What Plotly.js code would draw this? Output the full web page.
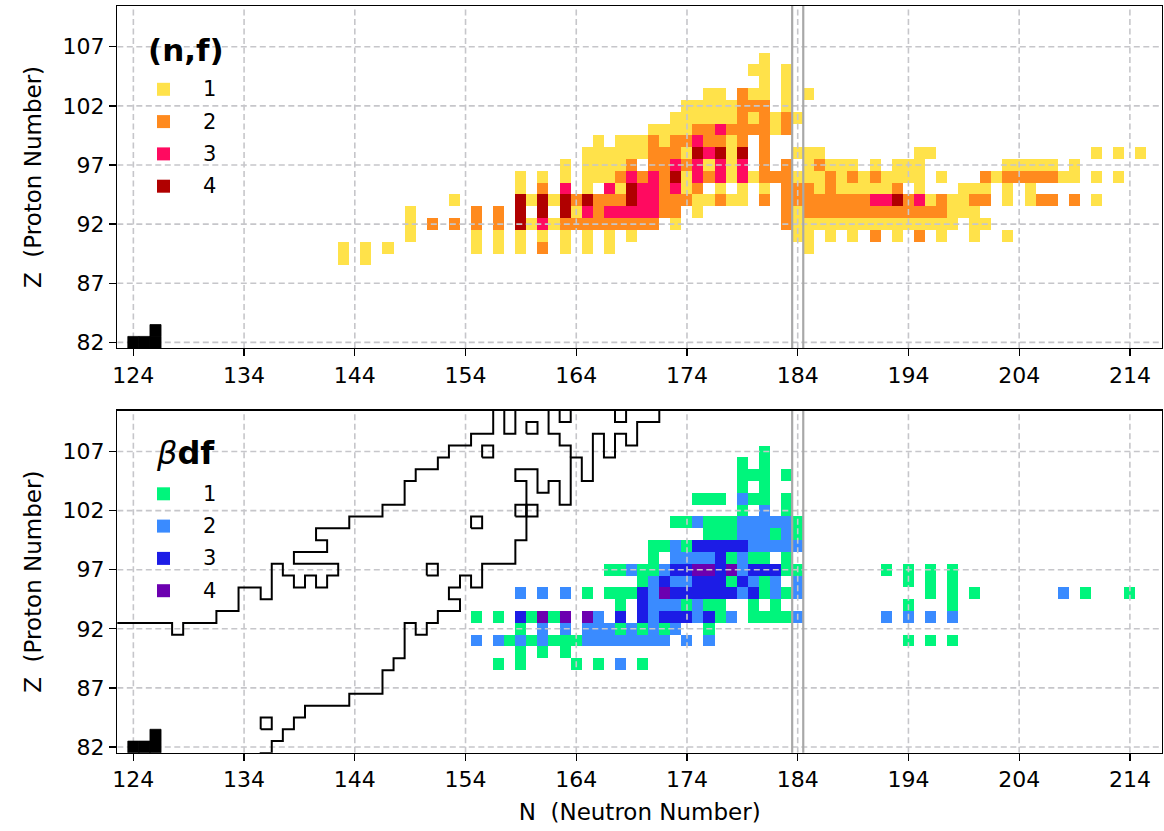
<!DOCTYPE html>
<html><head><meta charset="utf-8">
<script src="https://cdn.plot.ly/plotly-3.0.1.min.js"></script>
<style>html,body{margin:0;padding:0;background:#fff}</style>
</head><body>
<div id="chart" style="width:1164px;height:831px"></div>
<script>
// ---------------- DATA ----------------
const nTicks = [124,134,144,154,164,174,184,194,204,214];
const zTicks = [82,87,92,97,102,107];
const levelLabels = ['1','2','3','4'];
const nfColors  = ['#ffe24a','#ff8a1e','#ff0a60','#b00000'];
const bdfColors = ['#00f57c','#3a8bff','#1c1ce6','#6c00b0'];

// (n,f) panel: cells per proton number, "N:level" or "Nfrom-Nto:level"
const nfZ = [106,105,104,103,102,101,100,99,98,97,96,95,94,93,92,91,90,89];
const nfCells = [
 "181:1",
 "180:1 181:1 183:1",
 "181:1 183:1",
 "176-177:1 179:2 180-181:1 183:1 185:1",
 "174-178:1 179-181:2 183:1",
 "173-178:1 179:2 180:1 181:2 182:1 183:2 184:1",
 "171-174:1 175-176:2 177:3 178-181:2 182:1 183:2",
 "166:1 168-170:1 171:2 172:1 173-174:2 175:3 176-177:2 178:1 179:2 181:2",
 "165-170:1 171-173:2 174:1 175:4 176:3 177:4 178:1 179:4 181:2 184-186:1 195-196:1 211:1 213:1 215:1",
 "163:1 165-168:1 169:2 171-172:2 173:3 174:2 175:3 176:1 177:3 178:1 179:3 181:2 183:2 185:1 186:2 187-189:1 191:1 193-195:1 203-207:1 209:1",
 "159:1 161:1 163:1 165-167:1 168:2 169:3 170:2 171:3 172:2 173:4 174:1 175:3 176:2 177:3 178:1 179:3 180:1 181-183:2 184-186:1 187:2 188:1 189:2 190:1 191:2 192-195:1 197:1 201:2 202:1 203-207:2 208-209:1 211:1 213:1",
 "159:1 161:2 163:3 165:1 167:3 168:1 169:4 170-171:3 172:2 173:3 174:1 175:2 177:1 179:1 181:1 183-185:2 186:1 187:2 188-192:1 193:2 195:1 199-201:1 203:1 205:1",
 "153:1 159:4 160:1 161:4 162:1 163:4 164:2 165:4 166-168:2 169:4 170-171:3 172-174:2 175-176:1 177:2 178-179:1 181:2 183-190:2 191-192:3 193:4 194:2 195:3 196:1 197:2 198-199:1 200-201:2 203:1 205:1 206-207:2 209:2 211:1",
 "149:1 155:2 157:2 159:4 161:4 163:4 164:1 165:3 166:2 167-171:3 172-173:2 175:1 183:2 184:1 185-197:2 198-200:1",
 "149:1 151:2 153:2 155:2 157:2 159:4 160:1 161:3 162:1 163-171:2 173:1 183:2 184-198:1 200-201:1",
 "149:1 155:1 157:1 159:1 161:1 163:1 165:1 167:1 169:1 184-185:1 187:1 189:1 191:2 193:1 195:2 197:1 200:1 203:1",
 "143:1 145:1 147:1 155:1 157:1 159:1 161:2 163:1 165:1 167:1 185:1",
 "143:1 145:1"
];

// beta-delayed fission panel
const bdfZ = [107,106,105,104,103,102,101,100,99,98,97,96,95,94,93,92,91,90,89];
const bdfCells = [
 "181:1",
 "179:1 181:1",
 "179-181:1 183:1",
 "179:1 181:1",
 "175-177:1 179:2 180-181:1 183:1",
 "179:1 181:2 183:1",
 "173-174:1 175:2 176-178:1 179-183:2 184:1",
 "176-178:1 179-181:2 182:1 183:2 184:1",
 "171-172:1 173:2 174:1 175-179:3 180-184:2",
 "171:1 173-176:2 177:3 178:1 179:2 180-181:1 183:1",
 "167-168:1 169:2 170-171:1 172:2 173-174:3 175-176:4 177:3 178:4 179:2 180-182:3 183-184:1 192:1 194:1 196:1 198:1",
 "170:1 171:2 172:3 173-174:2 175-177:3 178:1 179:3 180:2 181:1 182:2 184:2 194:1 196:1 198:1",
 "159:2 161:2 163:2 165:1 167-169:1 170:3 171:2 172:4 173-178:3 179:2 180:3 181:1 182:2 183:1 184:2 196:1 198:1 200:1 208:2 210:1 214:1",
 "168:1 170:3 171-173:2 174:1 175:2 176-177:1 180:1 182:1 194:1 198:1",
 "155:1 157:1 159:3 160:1 161:4 162:1 163:4 165:4 166:2 168:3 170:3 171:2 172-174:3 175:2 176:3 177:1 178:2 180-183:1 184:2 192:2 194:2 196:2 198:2",
 "159:1 161:2 163:2 165-167:2 168:1 169:2 170:1 171:2 172:1 173:2 176:1",
 "155:2 157:2 158:1 159:2 160:1 161:2 162-164:1 165-172:2 174:2 176:2 194:1 196:1 198:1",
 "159:1 161:1 163:1",
 "157:1 159:1 164:1 166:1 168:2 170:1"
];

// doubly-magic corner (filled black) cells
const blackN = [124,125,126,126];
const blackZ = [82,82,82,83];

// magic N = 184 boundaries
const magicN = [183.5,184.5];

// outline paths (cell-edge vertices, N and Z)
const upperLineN = [120,127.5,127.5,128.5,128.5,131.5,131.5,133.5,133.5,135.5,135.5,136.5,136.5,137.5,137.5,138.5,138.5,139.5,139.5,140.5,140.5,141.5,141.5,142.5,142.5,138.5,138.5,141.5,141.5,140.5,140.5,143.5,143.5,146.5,146.5,148.5,148.5,149.5,149.5,151.5,151.5,152.5,152.5,154.5,154.5,156.5,156.5];
const upperLineZ = [92.5,92.5,91.5,91.5,92.5,92.5,93.5,93.5,95.5,95.5,94.5,94.5,97.5,97.5,96.5,96.5,95.5,95.5,96.5,96.5,95.5,95.5,96.5,96.5,97.5,97.5,98.5,98.5,99.5,99.5,100.5,100.5,101.5,101.5,102.5,102.5,104.5,104.5,105.5,105.5,106.5,106.5,107.5,107.5,108.5,108.5,112];
const lowerLineN = [135.5,135.5,136.5,136.5,137.5,137.5,138.5,138.5,139.5,139.5,143.5,143.5,146.5,146.5,147.5,147.5,148.5,148.5,149.5,149.5,150.5,150.5,151.5,151.5,153.5,153.5,152.5,152.5,153.5,153.5,154.5,154.5,155.5,155.5,158.5,158.5,159.5,159.5,158.5,158.5,160.5,160.5,161.5,161.5,162.5,162.5,163.5,163.5,164.5,164.5,165.5,165.5,166.5,166.5,167.5,167.5,168.5,168.5,169.5,169.5,171.5,171.5];
const lowerLineZ = [79,81.5,81.5,82.5,82.5,83.5,83.5,84.5,84.5,85.5,85.5,86.5,86.5,88.5,88.5,89.5,89.5,92.5,92.5,91.5,91.5,92.5,92.5,93.5,93.5,94.5,94.5,95.5,95.5,96.5,96.5,95.5,95.5,97.5,97.5,99.5,99.5,104.5,104.5,105.5,105.5,103.5,103.5,104.5,104.5,102.5,102.5,106.5,106.5,104.5,104.5,108.5,108.5,106.5,106.5,108.5,108.5,107.5,107.5,109.5,109.5,112];
// short segments hanging from the top edge
const topNotchN = [[157.5,157.5,158.5,158.5],[161.5,161.5,162.5,162.5,163.5,163.5],[162.5,162.5,163.5,163.5],[167.5,167.5,168.5,168.5]];
const topNotchZ = [[112,108.5,108.5,112],[112,108.5,108.5,107.5,107.5,106.5],[112,109.5,109.5,112],[112,109.5,109.5,112]];
// single outlined cells
const boxN = [136,151,155,156,160,159,160];
const boxZ = [84,97,101,107,109,102,102];

// ---------------- BUILD ----------------
function parseRuns(s){
  const out=[];
  s.trim().split(/\s+/).forEach(tok=>{
    if(!tok) return;
    const parts=tok.split(':'); const v=+parts[1];
    const r=parts[0].split('-').map(Number);
    const a=r[0], b=(r.length>1)?r[1]:r[0];
    for(let n=a;n<=b;n++) out.push([n,v]);
  });
  return out;
}
const gridN=[]; for(let n=120;n<=218;n++) gridN.push(n);
const gridZ=[]; for(let z=80;z<=112;z++) gridZ.push(z);
function buildZ(zList, cellList){
  const m = gridZ.map(()=>gridN.map(()=>null));
  zList.forEach((z,i)=>{
    parseRuns(cellList[i]).forEach(([n,v])=>{ m[z-gridZ[0]][n-gridN[0]] = v; });
  });
  return m;
}
function stepScale(cols){
  const k=cols.length, s=[];
  cols.forEach((c,i)=>{ s.push([i/k,c]); s.push([(i+1)/k,c]); });
  return s;
}
const xRange=[122.55,216.9], yRange=[81.52,110.45];

const traces = [];
const noHover = {hoverinfo:'skip', showlegend:false};
[['x','y',nfZ,nfCells,nfColors,false],['x2','y2',bdfZ,bdfCells,bdfColors,true]].forEach(([xa,ya,zl,cl,cols,outlines])=>{
  traces.push(Object.assign({type:'heatmap', x:gridN, y:gridZ, z:buildZ(zl,cl), zmin:0.5, zmax:4.5,
    colorscale:stepScale(cols), showscale:false, xaxis:xa, yaxis:ya}, noHover));
  // dashed grid drawn over the cells
  const gx=[],gy=[];
  nTicks.forEach(t=>{ gx.push(t,t,null); gy.push(yRange[0],yRange[1],null); });
  zTicks.forEach(t=>{ gx.push(xRange[0],xRange[1],null); gy.push(t,t,null); });
  traces.push(Object.assign({type:'scatter', mode:'lines', x:gx, y:gy, xaxis:xa, yaxis:ya,
    line:{color:'#c6c6ca', width:1.6, dash:'6px,3.5px'}}, noHover));
  // N = 184 double line
  const mx=[],my=[];
  magicN.forEach(t=>{ mx.push(t,t,null); my.push(yRange[0]-1,yRange[1]+1,null); });
  traces.push(Object.assign({type:'scatter', mode:'lines', x:mx, y:my, xaxis:xa, yaxis:ya,
    line:{color:'#a8a8a8', width:2.2}}, noHover));
  if(outlines){
    const ls={color:'#000', width:2};
    traces.push(Object.assign({type:'scatter', mode:'lines', x:upperLineN, y:upperLineZ, line:ls, xaxis:xa, yaxis:ya}, noHover));
    traces.push(Object.assign({type:'scatter', mode:'lines', x:lowerLineN, y:lowerLineZ, line:ls, xaxis:xa, yaxis:ya}, noHover));
    topNotchN.forEach((nn,i)=>traces.push(Object.assign({type:'scatter', mode:'lines', x:nn, y:topNotchZ[i], line:ls, xaxis:xa, yaxis:ya}, noHover)));
    const bx=[],by=[];
    boxN.forEach((n,i)=>{ const z=boxZ[i];
      bx.push(n-0.5,n+0.5,n+0.5,n-0.5,n-0.5,null); by.push(z-0.5,z-0.5,z+0.5,z+0.5,z-0.5,null); });
    traces.push(Object.assign({type:'scatter', mode:'lines', x:bx, y:by, line:ls, xaxis:xa, yaxis:ya}, noHover));
  }
  // filled black cells on top
  blackN.forEach((n,i)=>{ const z=blackZ[i];
    traces.push(Object.assign({type:'scatter', mode:'lines', fill:'toself', fillcolor:'#000',
      x:[n-0.5,n+0.5,n+0.5,n-0.5,n-0.5], y:[z-0.5,z-0.5,z+0.5,z+0.5,z-0.5],
      line:{color:'#000', width:0.8}, xaxis:xa, yaxis:ya}, noHover)); });
});

// ---------------- LAYOUT ----------------
const W=1164,H=831;
const px=(v)=>v/W, py=(v)=>1-v/H;
const fontFam = 'DejaVu Sans, Verdana, sans-serif';
function xAxis(domain, anchor, title){
  const a = {domain, anchor, range:xRange, tickvals:nTicks, ticks:'outside', ticklen:7, tickwidth:1.3,
    tickcolor:'#000', showgrid:false, zeroline:false, showline:true, mirror:true, linecolor:'#000', linewidth:1.3,
    tickfont:{size:22, color:'#000', family:fontFam}};
  if(title) a.title = {text:title, font:{size:23, color:'#000', family:fontFam}, standoff:12};
  return a;
}
function yAxis(domain, anchor){
  return {domain, anchor, range:yRange, tickvals:zTicks, ticks:'outside', ticklen:7, tickwidth:1.3,
    tickcolor:'#000', showgrid:false, zeroline:false, showline:true, mirror:true, linecolor:'#000', linewidth:1.3,
    tickfont:{size:22, color:'#000', family:fontFam},
    title:{text:'Z \u00a0(Proton Number)', font:{size:23, color:'#000', family:fontFam}, standoff:14}};
}
const xDom=[px(117.3), px(1162)];
const shapes=[], annotations=[];
function legendBlock(titleText, titleY, titleSize, sqY0, cols){
  annotations.push({xref:'paper', yref:'paper', x:px(186), y:py(titleY), text:titleText, showarrow:false,
    xanchor:'center', yanchor:'middle', font:{size:titleSize, color:'#000', family:fontFam}});
  cols.forEach((c,i)=>{
    const cy = sqY0 + i*32.3;
    shapes.push({type:'rect', xref:'paper', yref:'paper', x0:px(157), x1:px(170), y0:py(cy+6.5), y1:py(cy-6.5),
      fillcolor:c, line:{width:0}, layer:'above'});
    annotations.push({xref:'paper', yref:'paper', x:px(209), y:py(cy), text:levelLabels[i], showarrow:false,
      xanchor:'center', yanchor:'middle', font:{size:21, color:'#000', family:fontFam}});
  });
}
legendBlock('<b>(n,f)</b>', 50, 31, 89.3, nfColors);
legendBlock('<i>β</i><b>df</b>', 453, 32, 493.8, bdfColors);

const layout = {
  width:W, height:H, margin:{l:0,r:0,t:0,b:0}, paper_bgcolor:'#fff', plot_bgcolor:'#fff',
  showlegend:false,
  xaxis: xAxis(xDom,'y',null),
  yaxis: yAxis([py(348), py(6)],'x'),
  xaxis2: xAxis(xDom,'y2','N \u00a0(Neutron Number)'),
  yaxis2: yAxis([py(752.7), py(410.7)],'x2'),
  shapes, annotations
};
Plotly.newPlot('chart', traces, layout, {displayModeBar:false, staticPlot:true});
</script>
</body></html>
